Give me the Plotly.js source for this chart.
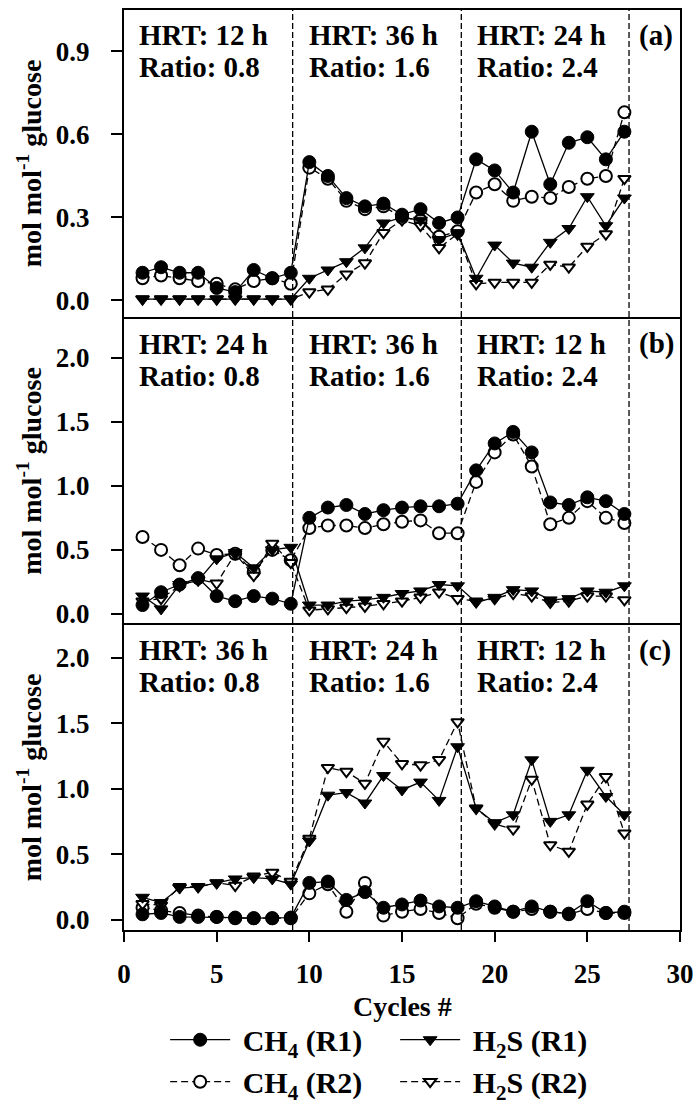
<!DOCTYPE html>
<html><head><meta charset="utf-8">
<script src="https://cdn.plot.ly/plotly-3.0.1.min.js"></script>
<style>html,body{margin:0;padding:0;background:#fff}</style>
</head><body><div id="chart" style="width:697px;height:1104px"></div>
<script>
const cycles = [1,2,3,4,5,6,7,8,9,10,11,12,13,14,15,16,17,18,19,20,21,22,23,24,25,26,27];

// Panel (a)
const aCH4R1 = [0.10,0.12,0.10,0.10,0.045,0.03,0.11,0.08,0.10,0.50,0.45,0.37,0.34,0.35,0.31,0.33,0.28,0.30,0.51,0.47,0.39,0.61,0.42,0.57,0.59,0.51,0.61];
const aCH4R2 = [0.08,0.09,0.08,0.07,0.06,0.04,0.07,0.08,0.06,0.48,0.44,0.36,0.33,0.34,0.30,0.29,0.23,0.25,0.39,0.42,0.36,0.375,0.37,0.41,0.44,0.45,0.68];
const aH2SR1 = [0.005,0.005,0.005,0.005,0.005,0.005,0.005,0.005,0.005,0.08,0.11,0.14,0.19,0.28,0.30,0.29,0.22,0.245,0.08,0.20,0.135,0.12,0.21,0.26,0.375,0.27,0.37];
const aH2SR2 = [0.005,0.005,0.005,0.005,0.005,0.005,0.005,0.005,0.005,0.03,0.04,0.095,0.135,0.245,0.29,0.27,0.19,0.24,0.06,0.065,0.065,0.065,0.13,0.12,0.195,0.24,0.44];

// Panel (b)
const bCH4R1 = [0.07,0.17,0.23,0.28,0.14,0.10,0.14,0.12,0.08,0.75,0.83,0.85,0.78,0.81,0.83,0.84,0.84,0.86,1.12,1.33,1.42,1.26,0.87,0.85,0.91,0.88,0.78];
const bCH4R2 = [0.60,0.50,0.38,0.51,0.46,0.47,0.33,0.50,0.42,0.67,0.69,0.69,0.67,0.70,0.72,0.73,0.63,0.63,1.03,1.26,1.40,1.15,0.70,0.75,0.88,0.75,0.71];
const bH2SR1 = [0.14,0.04,0.23,0.26,0.43,0.48,0.36,0.50,0.52,0.07,0.07,0.10,0.11,0.13,0.16,0.18,0.23,0.22,0.09,0.13,0.19,0.18,0.11,0.12,0.18,0.17,0.22];
const bH2SR2 = [0.10,0.12,0.22,0.27,0.24,0.47,0.30,0.55,0.40,0.03,0.04,0.05,0.06,0.08,0.10,0.13,0.17,0.12,0.10,0.12,0.16,0.14,0.09,0.10,0.14,0.14,0.11];

// Panel (c)
const cCH4R1 = [0.04,0.05,0.02,0.02,0.02,0.015,0.01,0.01,0.015,0.28,0.29,0.15,0.21,0.09,0.115,0.145,0.10,0.09,0.14,0.10,0.06,0.10,0.06,0.045,0.14,0.05,0.06];
const cCH4R2 = [0.09,0.07,0.05,0.03,0.02,0.01,0.01,0.01,0.01,0.20,0.27,0.06,0.28,0.03,0.06,0.08,0.05,0.01,0.12,0.09,0.06,0.08,0.06,0.04,0.08,0.05,0.05];
const cH2SR1 = [0.17,0.13,0.24,0.25,0.28,0.31,0.32,0.31,0.27,0.60,0.95,0.97,0.89,1.10,0.99,1.05,0.91,1.32,0.85,0.74,0.80,1.22,0.75,0.80,1.14,0.94,0.80];
const cH2SR2 = [0.12,0.11,0.25,0.25,0.28,0.26,0.33,0.36,0.29,0.62,1.16,1.13,1.04,1.36,1.19,1.18,1.22,1.51,0.85,0.73,0.69,1.07,0.57,0.52,0.88,1.09,0.66];

const seriesNames = ['\u00a0CH<sub>4</sub> (R1)','\u00a0H<sub>2</sub>S (R1)','\u00a0CH<sub>4</sub> (R2)','\u00a0H<sub>2</sub>S (R2)'];
const phaseBoundaries = [9.1, 18.2, 27.25];
const panelLabels = ['(a)','(b)','(c)'];
const hrtLabels = [['HRT: 12 h','HRT: 36 h','HRT: 24 h'],['HRT: 24 h','HRT: 36 h','HRT: 12 h'],['HRT: 36 h','HRT: 24 h','HRT: 12 h']];
const ratioLabels = ['Ratio: 0.8','Ratio: 1.6','Ratio: 2.4'];
const xTitle = 'Cycles #';
const yTitle = 'mol mol<sup>-1</sup> glucose';
const textX = [0.7, 9.9, 18.95];
const labelX = 27.7;

const FONT = '"Liberation Serif", "Times New Roman", Times, serif';
const panels = [
  {xa:'x', ya:'y', data:[aCH4R1,aH2SR1,aCH4R2,aH2SR2]},
  {xa:'x2', ya:'y2', data:[bCH4R1,bH2SR1,bCH4R2,bH2SR2]},
  {xa:'x3', ya:'y3', data:[cCH4R1,cH2SR1,cCH4R2,cH2SR2]}
];
const styles = [
  {line:{color:'black',width:1.3,dash:'solid'}, marker:{symbol:'circle',size:13,color:'black',line:{color:'black',width:1}}},
  {line:{color:'black',width:1.3,dash:'solid'}, marker:{symbol:'triangle-down',size:12,color:'black',line:{color:'black',width:1}}},
  {line:{color:'black',width:1.3,dash:'7px,4px'}, marker:{symbol:'circle',size:12,color:'white',line:{color:'black',width:2}}},
  {line:{color:'black',width:1.3,dash:'7px,4px'}, marker:{symbol:'triangle-down',size:11,color:'white',line:{color:'black',width:2}}}
];
const drawOrder = [2,3,0,1];

const traces = [];
panels.forEach((p, pi) => {
  drawOrder.forEach(si => {
    traces.push({
      type:'scatter', mode:'lines+markers', x:cycles, y:p.data[si],
      xaxis:p.xa, yaxis:p.ya, name:seriesNames[si], legendgroup:'s'+si,
      legendrank: si+1, showlegend: pi===0,
      line:styles[si].line, marker:styles[si].marker, cliponaxis:false
    });
  });
});

const titleFont = {family:FONT, size:28, color:'black', weight:'bold'};
const shapes = [];
const annotations = [];
panels.forEach((p, pi) => {
  phaseBoundaries.forEach(b => {
    shapes.push({type:'line', xref:p.xa, yref:p.ya+' domain', x0:b, x1:b, y0:0, y1:1,
      line:{color:'black', width:1.3, dash:'6px,3px'}});
  });
  const tf = {family:FONT, size:29, color:'black', weight:'bold'};
  for (let k=0;k<3;k++){
    annotations.push({xref:p.xa, yref:p.ya+' domain', x:textX[k], y:0.918, xanchor:'left', yanchor:'middle', showarrow:false, text:hrtLabels[pi][k], font:tf});
    annotations.push({xref:p.xa, yref:p.ya+' domain', x:textX[k], y:0.814, xanchor:'left', yanchor:'middle', showarrow:false, text:ratioLabels[k], font:tf});
  }
  annotations.push({xref:p.xa, yref:p.ya+' domain', x:labelX, y:0.918, xanchor:'left', yanchor:'middle', showarrow:false, text:panelLabels[pi], font:tf});
});
// x-axis title placed just under the tick labels
annotations.push({xref:'x3 domain', yref:'y3 domain', x:0.5, y:-0.252, xanchor:'center', yanchor:'middle', showarrow:false, text:xTitle, font:titleFont});

const tickFont = {family:FONT, size:27, color:'black', weight:'bold'};
function xAxis(domainAnchor, bottom){
  const ax = {range:[0,30], anchor:domainAnchor, showline:true, linecolor:'black', linewidth:2, mirror:true,
    zeroline:false, showgrid:false, ticks:'', showticklabels:false, fixedrange:true};
  if (bottom){
    Object.assign(ax, {ticks:'outside', ticklen:10, tickwidth:2, tickcolor:'black', showticklabels:true,
      tickmode:'linear', tick0:0, dtick:5, tickfont:tickFont, ticklabelstandoff:9});
  }
  return ax;
}
function yAxis(domain, range, dtick, fmt, anchor){
  return {domain:domain, range:range, anchor:anchor, showline:true, linecolor:'black', linewidth:2, mirror:true,
    zeroline:false, showgrid:false, ticks:'outside', ticklen:11, tickwidth:2, tickcolor:'black',
    tickmode:'linear', tick0:0, dtick:dtick, tickformat:fmt, tickfont:tickFont, ticklabelstandoff:16,
    title:{text:yTitle, font:titleFont, standoff:6}, fixedrange:true};
}

const layout = {
  width:697, height:1104,
  margin:{l:124, r:17, t:10, b:174, autoexpand:false},
  paper_bgcolor:'white', plot_bgcolor:'white',
  font:{family:FONT, color:'black'},
  xaxis: xAxis('y', false),
  xaxis2: xAxis('y2', false),
  xaxis3: xAxis('y3', true),
  yaxis: yAxis([0.6663,1], [-0.06,1.05], 0.3, '.1f', 'x'),
  yaxis2: yAxis([0.3337,0.6641], [-0.07,2.3], 0.5, '.1f', 'x2'),
  yaxis3: yAxis([0,0.3315], [-0.08,2.25], 0.5, '.1f', 'x3'),
  shapes: shapes,
  annotations: annotations,
  showlegend:true,
  legend:{orientation:'h', x:0.074, xanchor:'left', y:-0.091, yanchor:'top',
    font:{family:FONT, size:30, color:'black', weight:'bold'},
    entrywidth:155, entrywidthmode:'pixels', itemwidth:60, tracegroupgap:0,
    bgcolor:'rgba(0,0,0,0)', traceorder:'normal'}
};

Plotly.newPlot('chart', traces, layout, {staticPlot:true, displayModeBar:false});
</script>
</body></html>
